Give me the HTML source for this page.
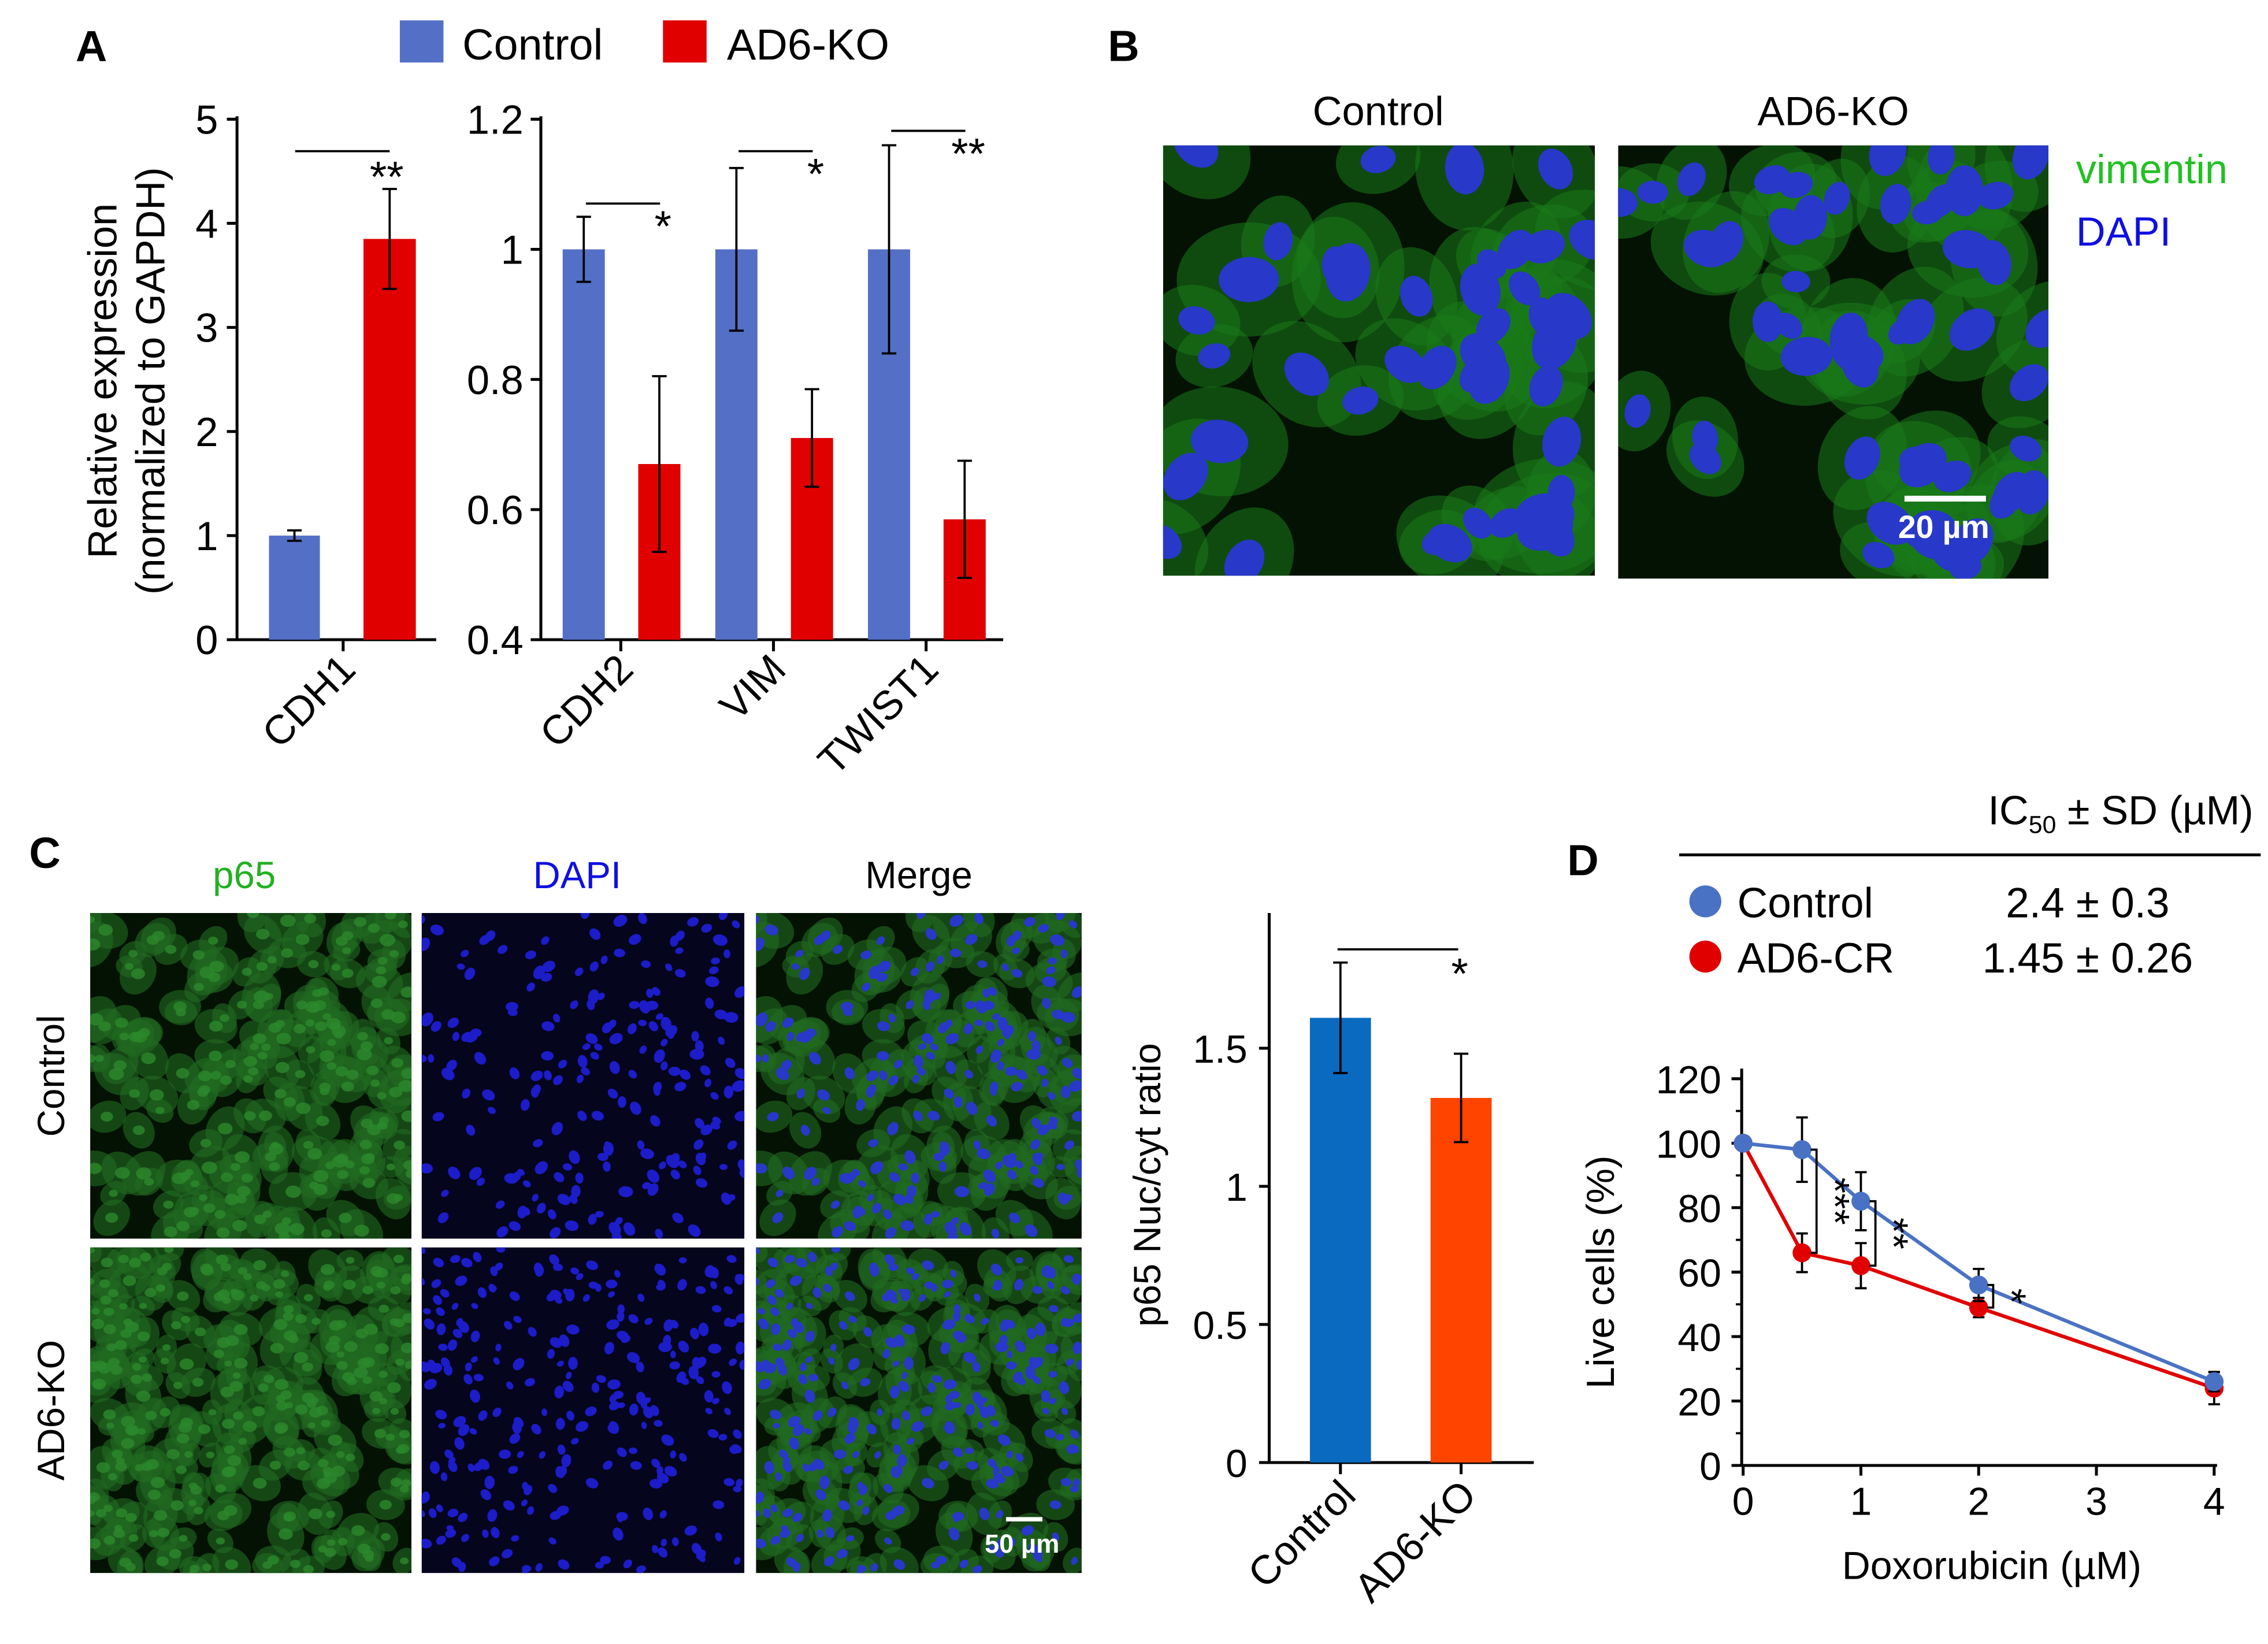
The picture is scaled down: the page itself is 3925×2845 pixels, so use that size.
<!DOCTYPE html>
<html><head><meta charset="utf-8"><style>
html,body{margin:0;padding:0;background:#fff}
svg{display:block}
text{font-family:"Liberation Sans",Arial,sans-serif}
</style></head><body>
<svg id="s" width="3925" height="2845" viewBox="0 0 1560 1130.8" xmlns="http://www.w3.org/2000/svg">
<defs>
<clipPath id="cB1"><rect x="800" y="100" width="297" height="296"/></clipPath>
<clipPath id="cB2"><rect x="1113" y="100" width="296" height="298"/></clipPath>
</defs>
<g id="pA">
<text x="52" y="42" font-size="30" font-weight="bold">A</text>
<rect x="275" y="14" width="30" height="29" fill="#5470c6"/>
<text x="318" y="41" font-size="30">Control</text>
<rect x="456" y="14" width="30" height="29" fill="#e00000"/>
<text x="500" y="41" font-size="30">AD6-KO</text>
<text transform="translate(80,262) rotate(-90)" text-anchor="middle" font-size="28">Relative expression</text>
<text transform="translate(113,262) rotate(-90)" text-anchor="middle" font-size="28">(normalized to GAPDH)</text>
</g>
<g id="pB">
<text x="762" y="42" font-size="30" font-weight="bold">B</text>
<text x="948" y="86" font-size="28" text-anchor="middle">Control</text>
<text x="1261" y="86" font-size="28" text-anchor="middle">AD6-KO</text>
<text x="1428" y="126" font-size="28" fill="#22c022">vimentin</text>
<text x="1428" y="169" font-size="28" fill="#1010e0">DAPI</text>
</g>
<g id="pC">
<text x="20" y="597" font-size="30" font-weight="bold">C</text>
<text x="168" y="611" font-size="26" fill="#22b022" text-anchor="middle">p65</text>
<text x="397" y="611" font-size="26" fill="#1010e0" text-anchor="middle">DAPI</text>
<text x="632" y="611" font-size="26" text-anchor="middle">Merge</text>
<text transform="translate(44,740) rotate(-90)" font-size="26" text-anchor="middle">Control</text>
<text transform="translate(44,970) rotate(-90)" font-size="26" text-anchor="middle">AD6-KO</text>
<text transform="translate(798,815) rotate(-90)" font-size="26" text-anchor="middle">p65 Nuc/cyt ratio</text>
</g>
<g id="pD">
<text x="1078" y="602" font-size="30" font-weight="bold">D</text>
<text x="1550" y="567" font-size="28" text-anchor="end">IC<tspan font-size="17" dy="6">50</tspan><tspan dy="-6"> ± SD (µM)</tspan></text>
<line x1="1155" y1="588" x2="1555" y2="588" stroke="#000" stroke-width="2"/>
<circle cx="1173" cy="620" r="11" fill="#4a72c4"/>
<text x="1195" y="631" font-size="29">Control</text>
<text x="1436" y="631" font-size="29" text-anchor="middle">2.4 ± 0.3</text>
<circle cx="1173" cy="658" r="11" fill="#e00000"/>
<text x="1195" y="669" font-size="29">AD6-CR</text>
<text x="1436" y="669" font-size="29" text-anchor="middle">1.45 ± 0.26</text>
<text transform="translate(1110,875) rotate(-90)" font-size="27" text-anchor="middle">Live cells (%)</text>
<text x="1370" y="1086" font-size="27" text-anchor="middle">Doxorubicin (µM)</text>
</g>
</svg>
<script>
// ---- Panel A data ----
const aLeftCats=["CDH1"];
const aLeftCtrl=[1.0], aLeftCtrlErr=[0.05];
const aLeftKO=[3.85], aLeftKOErr=[0.48];
const aLeftTicks=[0,1,2,3,4,5];
const aRightCats=["CDH2","VIM","TWIST1"];
const aRightCtrl=[1.0,1.0,1.0], aRightCtrlErr=[0.05,0.125,0.16];
const aRightKO=[0.67,0.71,0.585], aRightKOErr=[0.135,0.075,0.09];
const aRightTicks=[0.4,0.6,0.8,1,1.2];
const aRightTickLabels=["0.4","0.6","0.8","1","1.2"];
const aSigLeft=["**"], aSigRight=["*","*","**"];
// ---- Panel C data ----
const cCats=["Control","AD6-KO"];
const cVals=[1.61,1.32], cErr=[0.2,0.16];
const cTicks=[0,0.5,1,1.5];
const cTickLabels=["0","0.5","1","1.5"];
// ---- Panel D data ----
const dX=[0,0.5,1,2,4];
const dCtrl=[100,98,82,56,26], dCtrlErr=[0,10,9,5,3];
const dCR=[100,66,62,49,24], dCRErr=[0,6,7,3,5];
const dYTicks=[0,20,40,60,80,100,120];
const dXTicks=[0,1,2,3,4];

const S=document.getElementById('s');
const NS='http://www.w3.org/2000/svg';
function mk(t,a,p){const e=document.createElementNS(NS,t);for(const k in a)e.setAttribute(k,a[k]);(p||S).appendChild(e);return e;}
function line(x1,y1,x2,y2,w,c,p){return mk('line',{x1,y1,x2,y2,stroke:c||'#000','stroke-width':w||2},p);}
function txt(x,y,s,o,p){const e=mk('text',Object.assign({x,y,'font-size':27},o||{}),p);e.textContent=s;return e;}
function errbar(x,y1,y2,cap,p){line(x,y1,x,y2,1.5,'#000',p);line(x-cap,y1,x+cap,y1,1.5,'#000',p);line(x-cap,y2,x+cap,y2,1.5,'#000',p);}

// Panel A left
(function(){
 const g=document.getElementById('pA');
 const y=v=>440-v*(358/5);
 line(163,80,163,441,2,'#000',g);line(162,440,300,440,2,'#000',g);line(236,440,236,448,2,'#000',g);
 aLeftTicks.forEach(t=>{line(156,y(t),163,y(t),2,'#000',g);
  const e=txt(150,y(t)+10,String(t),{'text-anchor':'end','font-size':28},g);});
 aLeftCats.forEach((c,i)=>{
  const cx=236;
  const b1=mk('rect',{x:cx-51,y:y(aLeftCtrl[i]),width:35,height:440-y(aLeftCtrl[i]),fill:'#5470c6'},g);
  
  errbar(cx-33.5,y(aLeftCtrl[i]+aLeftCtrlErr[i]),y(aLeftCtrl[i]-aLeftCtrlErr[i]),5,g);
  const b2=mk('rect',{x:cx+14,y:y(aLeftKO[i]),width:36,height:440-y(aLeftKO[i]),fill:'#e00000'},g);
  
  errbar(cx+32,y(aLeftKO[i]+aLeftKOErr[i]),y(aLeftKO[i]-aLeftKOErr[i]),5,g);
  line(203,104,268,104,1.5,'#000',g);
  txt(266,132,aSigLeft[i],{'font-size':30,'text-anchor':'middle'},g);
  const l=txt(0,0,c,{'font-size':28,'text-anchor':'end',transform:`translate(${cx+10},462) rotate(-45)`},g);
  
 });
})();
// Panel A right
(function(){
 const g=document.getElementById('pA');
 const y=v=>440-(v-0.4)*(358/0.8);
 line(372,80,372,441,2,'#000',g);line(371,440,690,440,2,'#000',g);
 aRightTicks.forEach((t,i)=>{line(365,y(t),372,y(t),2,'#000',g);
  const e=txt(360,y(t)+10,aRightTickLabels[i],{'text-anchor':'end','font-size':28},g);});
 const sigY=[140,104,90];
 aRightCats.forEach((c,i)=>{
  const cx=427+i*105;
  line(cx,440,cx,448,2,'#000',g);
  const b1=mk('rect',{x:cx-40,y:y(aRightCtrl[i]),width:29,height:440-y(aRightCtrl[i]),fill:'#5470c6'},g);
  
  errbar(cx-25.5,y(aRightCtrl[i]+aRightCtrlErr[i]),y(aRightCtrl[i]-aRightCtrlErr[i]),5,g);
  const b2=mk('rect',{x:cx+12,y:y(aRightKO[i]),width:29,height:440-y(aRightKO[i]),fill:'#e00000'},g);
  
  errbar(cx+26.5,y(aRightKO[i]+aRightKOErr[i]),y(aRightKO[i]-aRightKOErr[i]),5,g);
  line(cx-24,sigY[i],cx+27,sigY[i],1.5,'#000',g);
  txt(cx+29,sigY[i]+26,aSigRight[i],{'font-size':30,'text-anchor':'middle'},g);
  const l=txt(0,0,c,{'font-size':28,'text-anchor':'end',transform:`translate(${cx+10},462) rotate(-45)`},g);
  
 });
})();

// pseudo-random for microscopy textures
let seed=7;function rnd(){seed=(seed*16807)%2147483647;return seed/2147483647;}
function micro(x,y,w,h,kind,n,cellR,name,clip){
 const g=mk('g',clip?{'clip-path':clip}:{});
 
 
 const bg=kind==='dapi'?'#05051e':'#031203';
 mk('rect',{x,y,width:w,height:h,fill:bg},g);
 const cells=[];
 for(let i=0;i<n;i++)cells.push([x+rnd()*w,y+rnd()*h,cellR*(0.7+rnd()*0.6),rnd()*180]);
 if(kind!=='dapi'){
  const f=kind==='vim'?'#1a7a1a':'#226a22';
  cells.forEach(c=>{mk('ellipse',{cx:c[0],cy:c[1],rx:c[2]*1.2,ry:c[2]*0.95,transform:`rotate(${c[3]} ${c[0]} ${c[1]})`,fill:f,opacity:kind==='vim'?0.55:0.6},g);});
 }
 if(kind==='p65'){
  cells.forEach(c=>{mk('ellipse',{cx:c[0],cy:c[1],rx:c[2]*0.38,ry:c[2]*0.3,fill:'#2c882c',opacity:0.8},g);});
 } else {
  const nf=kind==='dapi'?'#1c1cc8':'#2838c8';
  const sc=kind==='vim'?0.5:0.36;
  cells.forEach(c=>{mk('ellipse',{cx:c[0],cy:c[1],rx:c[2]*sc,ry:c[2]*sc*0.75,transform:`rotate(${c[3]} ${c[0]} ${c[1]})`,fill:nf},g);});
 }
 return g;
}
micro(800,100,297,296,'vim',42,32,'image-control-vimentin','url(#cB1)');
micro(1113,100,296,298,'vim',52,28,'image-ko-vimentin','url(#cB2)');
const cx0=[62,290,520],cw=[221,222,224],ry0=[628,858];
const kinds=['p65','dapi','merge'];
ry0.forEach((yy,r)=>{kinds.forEach((k,c)=>{
 let cid='cC'+r+c;const cp=mk('clipPath',{id:cid});mk('rect',{x:cx0[c],y:yy,width:cw[c],height:224},cp);
 seed=11+r*5;micro(cx0[c],yy,cw[c],224,k==='merge'?'mix':k,r?260:200,r?10:11,'image-'+k+'-'+(r?'ko':'control'),'url(#'+cid+')');
});});
// scale bars
line(1310,343,1366,343,4,'#fff');
txt(1337,370,'20 µm',{'font-size':22,'font-weight':'bold',fill:'#fff','text-anchor':'middle'});
line(692,1045,717,1045,3,'#fff');
txt(703,1068,'50 µm',{'font-size':18,'font-weight':'bold',fill:'#fff','text-anchor':'middle'});

// Panel C bar chart
(function(){
 const g=document.getElementById('pC');
 const y=v=>1006-v*190;
 line(873,628,873,1007,2,'#000',g);line(872,1006,1055,1006,2,'#000',g);
 cTicks.forEach((t,i)=>{line(866,y(t),873,y(t),2,'#000',g);
  const e=txt(858,y(t)+10,cTickLabels[i],{'text-anchor':'end','font-size':27},g);});
 const cols=['#0a6ac0','#ff4400'];
 cCats.forEach((c,i)=>{
  const cx=922+i*83;
  line(cx,1006,cx,1014,2,'#000',g);
  const b=mk('rect',{x:cx-21,y:y(cVals[i]),width:42,height:1006-y(cVals[i]),fill:cols[i]},g);
  
  errbar(cx,y(cVals[i]+cErr[i]),y(cVals[i]-cErr[i]),5,g);
  const l=txt(0,0,c,{'font-size':28,'text-anchor':'end',transform:`translate(${cx+12},1030) rotate(-45)`},g);
  
 });
 line(920,653,1003,653,1.5,'#000',g);
 txt(1004,680,'*',{'font-size':30,'text-anchor':'middle'},g);
})();

// Panel D line chart
(function(){
 const g=document.getElementById('pD');
 const X=v=>1199+v*81, Y=v=>1008-v*(266/120);
 line(1198,735,1198,1009,2,'#000',g);line(1197,1008,1525,1008,2,'#000',g);
 dYTicks.forEach(t=>{line(1191,Y(t),1198,Y(t),2,'#000',g);
  const e=txt(1184,Y(t)+10,String(t),{'text-anchor':'end','font-size':27},g);});
 dYTicks.slice(0,-1).forEach(t=>line(1194,Y(t+10),1198,Y(t+10),1.5,'#000',g));
 dXTicks.forEach(t=>{line(X(t),1008,X(t),1015,2,'#000',g);
  const e=txt(X(t),1042,String(t),{'text-anchor':'middle','font-size':27},g);});
 function series(vals,errs,col,name){
  dX.forEach((x,i)=>{if(errs[i])errbar(X(x),Y(vals[i]+errs[i]),Y(vals[i]-errs[i]),4,g);});
  const p=mk('polyline',{points:dX.map((x,i)=>X(x)+','+Y(vals[i])).join(' '),fill:'none',stroke:col,'stroke-width':2.5},g);
  
  dX.forEach((x,i)=>{const c=mk('circle',{cx:X(x),cy:Y(vals[i]),r:6.5,fill:col},g);
   });
 }
 series(dCR,dCRErr,'#e00000','cr');
 series(dCtrl,dCtrlErr,'#4a72c4','control');
 const stars=['***','**','*'];
 [1,2,3].forEach((k,j)=>{
  const bx=X(dX[k])+10, y1=Y(dCtrl[k]), y2=Y(dCR[k]);
  mk('polyline',{points:`${bx-4},${y1} ${bx},${y1} ${bx},${y2} ${bx-4},${y2}`,fill:'none',stroke:'#000','stroke-width':1.5},g);
  txt(0,0,stars[j],{'font-size':28,'text-anchor':'middle',transform:`translate(${bx+3},${(y1+y2)/2}) rotate(90)`},g);
 });
})();
</script>
</body></html>
